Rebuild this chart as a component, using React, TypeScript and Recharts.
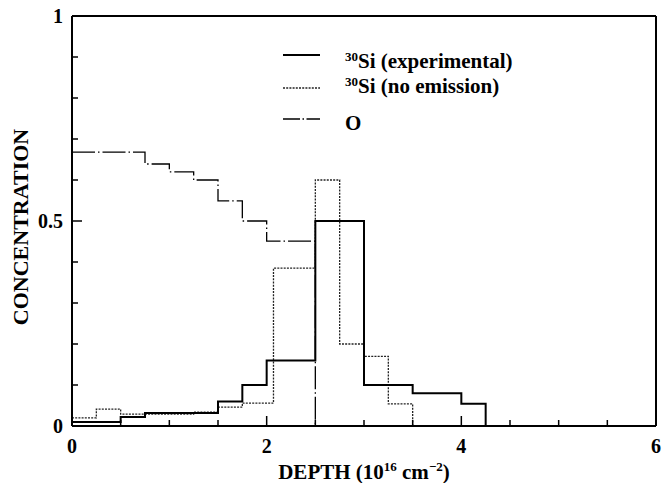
import { LineChart, Line, XAxis, YAxis, Legend } from 'recharts';

// step profiles: each x is the left edge of a bin, the last point closes the profile
const expDepth = [0, 0.5, 0.75, 1.5, 1.75, 2.0, 2.5, 3.0, 3.5, 4.0, 4.25];
const expConc = [0.01, 0.022, 0.032, 0.06, 0.1, 0.16, 0.5, 0.1, 0.08, 0.054, 0];

const noEmDepth = [0, 0.25, 0.5, 1.25, 1.5, 1.75, 2.07, 2.5, 2.75, 3.0, 3.25, 3.5];
const noEmConc = [0.02, 0.041, 0.029, 0.034, 0.046, 0.056, 0.385, 0.6, 0.2, 0.17, 0.054, 0];

const oxDepth = [0, 0.75, 1.0, 1.25, 1.5, 1.75, 2.0, 2.5];
const oxConc = [0.668, 0.639, 0.62, 0.6, 0.549, 0.5, 0.451, 0];

const xTicks = [0, 0.5, 1, 1.5, 2, 2.5, 3, 3.5, 4, 4.5, 5, 5.5, 6];
const xLabels = [0, 2, 4, 6];
const yTicks = [0, 0.1, 0.2, 0.3, 0.4, 0.5, 0.6, 0.7, 0.8, 0.9, 1];
const yLabels = [0, 0.5, 1];

const legendNames = ['Si (experimental)', 'Si (no emission)', 'O'];
const legendSups = ['30', '30', ''];

const toPoints = (xs: number[], ys: number[]) => xs.map((x, i) => ({ x, y: ys[i] }));

const FONT = '"Liberation Serif", "Times New Roman", serif';
const txt = { fontFamily: FONT, fontWeight: 700 };

const styles = [
  { stroke: '#000', strokeWidth: 2, dash: undefined as string | undefined },
  { stroke: '#222', strokeWidth: 1.3, dash: '2 1.2' },
  { stroke: '#000', strokeWidth: 1.3, dash: '23 3 1.5 3' },
];

const isLabel = (list: number[], v: number) => list.some((l) => Math.abs(l - v) < 1e-9);

const BottomTick = (props: any) => {
  const { x, y, payload } = props;
  const major = isLabel(xLabels, payload.value);
  return (
    <g>
      <line x1={x} x2={x} y1={y} y2={y - (major ? 10 : 6)} stroke="#000" strokeWidth={1.5} />
      {major && (
        <text x={x} y={y + 27} textAnchor="middle" style={txt} fontSize={20} fill="#000">
          {payload.value}
        </text>
      )}
    </g>
  );
};

const TopTick = (props: any) => {
  const { x, y, payload } = props;
  const major = isLabel(xLabels, payload.value);
  return <line x1={x} x2={x} y1={y} y2={y + (major ? 10 : 6)} stroke="#000" strokeWidth={1.5} />;
};

const LeftTick = (props: any) => {
  const { x, y, payload } = props;
  const major = isLabel(yLabels, payload.value);
  return (
    <g>
      <line x1={x} x2={x + (major ? 10 : 6)} y1={y} y2={y} stroke="#000" strokeWidth={1.5} />
      {major && (
        <text x={x - 9} y={y + 7} textAnchor="end" style={txt} fontSize={20} fill="#000">
          {payload.value}
        </text>
      )}
    </g>
  );
};

const RightTick = (props: any) => {
  const { x, y, payload } = props;
  const major = isLabel(yLabels, payload.value);
  return <line x1={x} x2={x - (major ? 10 : 6)} y1={y} y2={y} stroke="#000" strokeWidth={1.5} />;
};

const XLabel = (props: any) => {
  const { viewBox } = props;
  const cx = viewBox.x + viewBox.width / 2;
  return (
    <text x={cx} y={viewBox.y + 53} textAnchor="middle" style={txt} fontSize={21} fill="#000">
      <tspan>DEPTH (10</tspan>
      <tspan fontSize={13} dy={-8}>16</tspan>
      <tspan dy={8}> cm</tspan>
      <tspan fontSize={13} dy={-8}>−2</tspan>
      <tspan dy={8}>)</tspan>
    </text>
  );
};

const YLabel = (props: any) => {
  const { viewBox } = props;
  const tx = viewBox.x - 43;
  const ty = viewBox.y + viewBox.height / 2 + 6;
  return (
    <text
      x={tx}
      y={ty}
      transform={`rotate(-90 ${tx} ${ty})`}
      textAnchor="middle"
      style={txt}
      fontSize={22}
      fill="#000"
    >
      CONCENTRATION
    </text>
  );
};

const rowLine = [15, 48, 79];
const rowText = [28, 53, 90];

const LegendBox = () => (
  <svg width={240} height={100} style={{ display: 'block' }}>
    {legendNames.map((name, i) => (
      <g key={name}>
        <line
          x1={0}
          x2={37}
          y1={rowLine[i]}
          y2={rowLine[i]}
          stroke={styles[i].stroke}
          strokeWidth={styles[i].strokeWidth}
          strokeDasharray={i === 2 ? '17 2.5 1.5 2.5' : styles[i].dash}
        />
        <text x={62} y={rowText[i]} style={txt} fontSize={21} fill="#000">
          {legendSups[i] && (
            <tspan fontSize={13} dy={-7}>
              {legendSups[i]}
            </tspan>
          )}
          <tspan dy={legendSups[i] ? 7 : 0}>{name}</tspan>
        </text>
      </g>
    ))}
  </svg>
);

export default function App() {
  return (
    <div style={{ position: 'absolute', left: 0, top: 0, background: '#fff' }}>
      <LineChart width={662} height={483} margin={{ top: 15, right: 5, bottom: 56, left: 71 }}>
        <XAxis
          xAxisId="bottom"
          dataKey="x"
          type="number"
          domain={[0, 6]}
          ticks={xTicks}
          interval={0}
          height={1}
          tickSize={0}
          tickMargin={0}
          tickLine={false}
          tick={<BottomTick />}
          axisLine={{ stroke: '#000', strokeWidth: 2 }}
          allowDataOverflow
          label={<XLabel />}
        />
        <XAxis
          xAxisId="top"
          orientation="top"
          type="number"
          domain={[0, 6]}
          ticks={xTicks}
          interval={0}
          height={1}
          tickSize={0}
          tickMargin={0}
          tickLine={false}
          tick={<TopTick />}
          axisLine={{ stroke: '#000', strokeWidth: 2 }}
        />
        <YAxis
          yAxisId="left"
          type="number"
          domain={[0, 1]}
          ticks={yTicks}
          interval={0}
          width={1}
          tickSize={0}
          tickMargin={0}
          tickLine={false}
          tick={<LeftTick />}
          axisLine={{ stroke: '#000', strokeWidth: 2 }}
          allowDataOverflow
          label={<YLabel />}
        />
        <YAxis
          yAxisId="right"
          orientation="right"
          type="number"
          domain={[0, 1]}
          ticks={yTicks}
          interval={0}
          width={1}
          tickSize={0}
          tickMargin={0}
          tickLine={false}
          tick={<RightTick />}
          axisLine={{ stroke: '#000', strokeWidth: 2 }}
        />
        <Line
          xAxisId="bottom"
          yAxisId="left"
          data={toPoints(oxDepth, oxConc)}
          dataKey="y"
          type="stepAfter"
          dot={false}
          stroke={styles[2].stroke}
          strokeWidth={styles[2].strokeWidth}
          strokeDasharray={styles[2].dash}
          isAnimationActive={false}
        />
        <Line
          xAxisId="bottom"
          yAxisId="left"
          data={toPoints(noEmDepth, noEmConc)}
          dataKey="y"
          type="stepAfter"
          dot={false}
          stroke={styles[1].stroke}
          strokeWidth={styles[1].strokeWidth}
          strokeDasharray={styles[1].dash}
          isAnimationActive={false}
        />
        <Line
          xAxisId="bottom"
          yAxisId="left"
          data={toPoints(expDepth, expConc)}
          dataKey="y"
          type="stepAfter"
          dot={false}
          stroke={styles[0].stroke}
          strokeWidth={styles[0].strokeWidth}
          isAnimationActive={false}
        />
        <Legend
          layout="vertical"
          align="center"
          verticalAlign="middle"
          wrapperStyle={{ left: 283, top: 40, width: 240, height: 100 }}
          content={() => <LegendBox />}
        />
      </LineChart>
    </div>
  );
}
